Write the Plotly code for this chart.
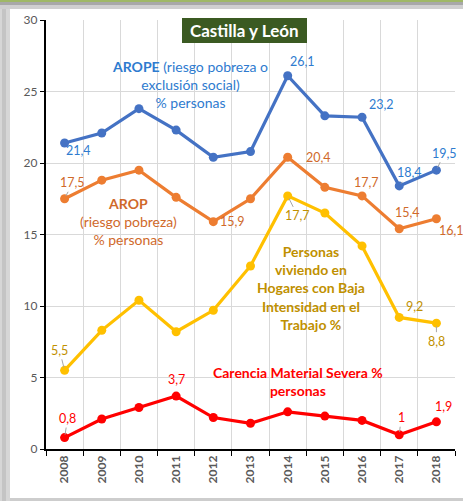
import plotly.graph_objects as go

years = list(range(2008, 2019))
arope = [21.4, 22.1, 23.8, 22.3, 20.4, 20.8, 26.1, 23.3, 23.2, 18.4, 19.5]
arop = [17.5, 18.8, 19.5, 17.6, 15.9, 17.5, 20.4, 18.3, 17.7, 15.4, 16.1]
baja = [5.5, 8.3, 10.4, 8.2, 9.7, 12.8, 17.7, 16.5, 14.2, 9.2, 8.8]
carencia = [0.8, 2.1, 2.9, 3.7, 2.2, 1.8, 2.6, 2.3, 2.0, 1.0, 1.9]
y_ticks = [0, 5, 10, 15, 20, 25, 30]

W, H = 463, 501
L, R, T, B = 46, 8, 20, 52
PW, PH = W - L - R, H - T - B

def px(x):
    return (x - L) / PW

def py(y):
    return 1 - (y - T) / PH

FONT = "Lato"

series = [
    (arope, "#4472c4", "#2e7bcf"),
    (arop, "#ed7d31", "#d0692a"),
    (baja, "#ffc000", "#bf9000"),
    (carencia, "#ff0000", "#ff0000"),
]

fig = go.Figure()
for vals, lc, _ in series:
    fig.add_trace(go.Scatter(
        x=years, y=vals, mode="lines+markers",
        line=dict(color=lc, width=3.2),
        marker=dict(color=lc, size=9),
        hoverinfo="skip", showlegend=False,
    ))

def fmt(v):
    s = ("%.1f" % v).rstrip("0").rstrip(".")
    return s.replace(".", ",")

# (series index, year index, dx, dy (px, down positive), leader)
labels = [
    (0, 0, 14, 8, False), (0, 6, 15, -14, False), (0, 8, 19, -13, False),
    (0, 9, 10, -13, True), (0, 10, 8, -17, True),
    (1, 0, 8, -16, True), (1, 4, 19, 0, False), (1, 6, 31, 0, False),
    (1, 8, 4, -13, False), (1, 9, 8, -16, False), (1, 10, 15, 12, False),
    (2, 0, -5, -20, True), (2, 6, 10, 20, True), (2, 9, 15, -11, False),
    (2, 10, 0, 18, True),
    (3, 0, 3, -19, True), (3, 3, 0, -17, False), (3, 9, 2, -17, True),
    (3, 10, 7, -15, False),
]

annotations = []
for si, yi, dx, dy, leader in labels:
    vals, _, tc = series[si]
    a = dict(x=years[yi], y=vals[yi], xref="x", yref="y", text=fmt(vals[yi]),
             font=dict(family=FONT, size=12.5, color=tc))
    if leader:
        a.update(showarrow=True, ax=dx, ay=dy, arrowhead=0, arrowwidth=1,
                 arrowcolor="#a6a6a6", standoff=3)
    else:
        a.update(showarrow=False, xshift=dx, yshift=-dy)
    annotations.append(a)

blocks = [
    ("<b>AROPE</b> (riesgo pobreza o<br>exclusión social)<br>% personas", 190, 85, "#2e7bcf", 14),
    ("<b>AROP</b><br>(riesgo pobreza)<br>% personas", 128, 221, "#d0692a", 14),
    ("<b>Personas<br>viviendo en<br>Hogares con Baja<br>Intensidad en el<br>Trabajo %</b>", 311, 288, "#bf9000", 14),
    ("<b>Carencia Material Severa %<br>personas</b>", 298, 381, "#ff0000", 14),
]
for text, cx, cy, col, fs in blocks:
    annotations.append(dict(x=px(cx), y=py(cy), xref="paper", yref="paper",
                            text=text, showarrow=False, align="center",
                            xanchor="center", yanchor="middle",
                            font=dict(family=FONT, size=fs, color=col)))

annotations.append(dict(x=px(244.5), y=py(30.5), xref="paper", yref="paper",
                        text="<b>Castilla y León</b>", showarrow=False,
                        xanchor="center", yanchor="middle",
                        font=dict(family=FONT, size=17, color="white")))

shapes = [
    # frame decoration
    dict(type="rect", xref="paper", yref="paper", x0=px(0), x1=px(10), y0=py(501), y1=py(0),
         fillcolor="#d6d6d6", line_width=0, layer="below"),
    dict(type="rect", xref="paper", yref="paper", x0=px(2), x1=px(6), y0=py(501), y1=py(0),
         fillcolor="#c4c4c4", line_width=0, layer="below"),
    dict(type="rect", xref="paper", yref="paper", x0=px(0), x1=px(463), y0=py(9), y1=py(2),
         fillcolor="#cfcfcf", line_width=0, layer="below"),
    dict(type="rect", xref="paper", yref="paper", x0=px(0), x1=px(463), y0=py(5), y1=py(2),
         fillcolor="#a8a8a8", line_width=0, layer="below"),
    dict(type="rect", xref="paper", yref="paper", x0=px(0), x1=px(463), y0=py(2), y1=py(0),
         fillcolor="#9fb866", line_width=0, layer="below"),
    dict(type="rect", xref="paper", yref="paper", x0=px(10), x1=px(463), y0=py(501), y1=py(498),
         fillcolor="#cdcdcd", line_width=0, layer="below"),
    # title box
    dict(type="rect", xref="paper", yref="paper", x0=px(182), x1=px(307), y0=py(43), y1=py(18),
         fillcolor="#3b5a22", line_width=0, layer="above"),
]

fig.update_layout(
    width=W, height=H,
    margin=dict(l=L, r=R, t=T, b=B),
    paper_bgcolor="white", plot_bgcolor="white",
    annotations=annotations, shapes=shapes,
    font=dict(family=FONT),
    xaxis=dict(
        range=[2007.5, 2018.5], tickmode="array", tickvals=years,
        ticktext=[str(y) for y in years], tickangle=-90, ticks="",
        showgrid=False, zeroline=False, showline=True, linecolor="black", linewidth=1.5,
        tickfont=dict(family=FONT, size=12, color="#595959", weight="bold"),
        minor=dict(tickmode="array", tickvals=[y - 0.5 for y in years] + [2018.5],
                   ticks="outside", ticklen=5, tickcolor="black", tickwidth=1,
                   showgrid=True, gridcolor="#d9d9d9", gridwidth=1),
        fixedrange=True,
    ),
    yaxis=dict(
        range=[0, 30], tickmode="array", tickvals=y_ticks, ticks="outside", ticklen=4,
        tickcolor="black", showgrid=True, gridcolor="#d9d9d9", gridwidth=1,
        zeroline=False, showline=True, linecolor="black", linewidth=2.2,
        tickfont=dict(family=FONT, size=12, color="#595959"),
        fixedrange=True,
    ),
)

fig.write_html("out.html", config={"displayModeBar": False},
               post_script="document.body.style.margin='0';")
